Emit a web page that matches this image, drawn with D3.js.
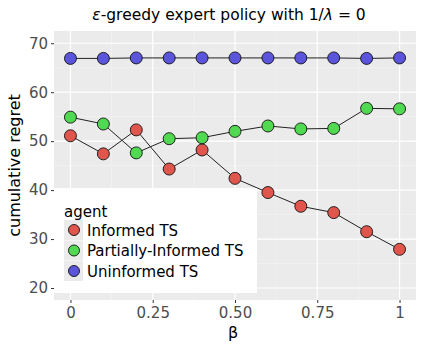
<!DOCTYPE html>
<html><head><meta charset="utf-8">
<script src="https://cdn.jsdelivr.net/npm/d3@7"></script>
<style>body{margin:0;background:#fff}svg{display:block;font-family:"DejaVu Sans",sans-serif}</style>
</head><body><svg id="c" width="423" height="351"></svg>
<script>
const betas = [0,0.1,0.2,0.3,0.4,0.5,0.6,0.7,0.8,0.9,1];
const informed = [51.1,47.4,52.3,44.3,48.2,42.4,39.5,36.7,35.4,31.5,27.9];
const partial = [54.9,53.5,47.6,50.5,50.7,52.0,53.1,52.5,52.6,56.7,56.6];
const uninformed = [66.9,66.9,67.0,67.0,67.0,67.0,67.0,67.0,67.0,66.9,67.0];
const agents = ["Informed TS","Partially-Informed TS","Uninformed TS"];
const colors = ["#e0554c","#52d952","#5b55dc"];
const xTicks = [0,0.25,0.5,0.75,1];
const xTickLabels = ["0","0.25","0.50","0.75","1"];
const yTicks = [20,30,40,50,60,70];

const svg = d3.select("#c");
const L=54, R=416, T=31, B=300;
const x = d3.scaleLinear().domain([-0.05,1.05]).range([L,R]);
const y = d3.scaleLinear().domain([17.55,72.5]).range([B,T]);

svg.append("rect").attr("x",L).attr("y",T).attr("width",R-L).attr("height",B-T).attr("fill","#ebebeb");
const g = svg.append("g");
// minor grid
[0.125,0.375,0.625,0.875].forEach(v=>g.append("line").attr("x1",x(v)).attr("x2",x(v)).attr("y1",T).attr("y2",B).attr("stroke","#f5f5f5").attr("stroke-width",0.6));
[25,35,45,55,65].forEach(v=>g.append("line").attr("y1",y(v)).attr("y2",y(v)).attr("x1",L).attr("x2",R).attr("stroke","#f5f5f5").attr("stroke-width",0.6));
xTicks.forEach(v=>g.append("line").attr("x1",x(v)).attr("x2",x(v)).attr("y1",T).attr("y2",B).attr("stroke","#fff").attr("stroke-width",1.2));
yTicks.forEach(v=>g.append("line").attr("y1",y(v)).attr("y2",y(v)).attr("x1",L).attr("x2",R).attr("stroke","#fff").attr("stroke-width",1.2));

const series=[informed,partial,uninformed];
const line=d3.line().x((d,i)=>x(betas[i])).y(d=>y(d));
series.forEach((s,k)=>{
  svg.append("path").attr("d",line(s)).attr("fill","none").attr("stroke","#222").attr("stroke-width",1);
});
series.forEach((s,k)=>{
  svg.selectAll(null).data(s).enter().append("circle")
    .attr("cx",(d,i)=>x(betas[i])).attr("cy",d=>y(d)).attr("r",6)
    .attr("fill",colors[k]).attr("stroke","#111").attr("stroke-width",0.9);
});

// axes
const xa = svg.append("g").attr("transform",`translate(0,${B})`)
  .call(d3.axisBottom(x).tickValues(xTicks).tickFormat((d,i)=>xTickLabels[i]).tickSize(3).tickPadding(4));
const ya = svg.append("g").attr("transform",`translate(${L},0)`)
  .call(d3.axisLeft(y).tickValues(yTicks).tickSize(3).tickPadding(3));
[xa,ya].forEach(a=>{a.select(".domain").remove();a.selectAll(".tick line").attr("stroke","#333");
  a.selectAll("text").attr("fill","#4d4d4d").style("font-size","15px").style("font-family","DejaVu Sans");});

// legend
const lg = svg.append("g");
lg.append("rect").attr("x",L).attr("y",188).attr("width",203).attr("height",105).attr("fill","#fff");
lg.append("text").attr("x",64).attr("y",217).text("agent").style("font-size","15px").attr("fill","#000");
agents.forEach((a,i)=>{
  const cy=230+i*20.5;
  lg.append("rect").attr("x",64).attr("y",cy-10).attr("width",19).attr("height",20).attr("fill","#ebebeb");
  lg.append("circle").attr("cx",74).attr("cy",cy).attr("r",5.5).attr("fill",colors[i]).attr("stroke","#111").attr("stroke-width",0.9);
  lg.append("text").attr("x",87).attr("y",cy+5.5).text(a).style("font-size","15px").attr("fill","#000");
});

svg.append("text").attr("x",229).attr("y",20).attr("text-anchor","middle").style("font-size","15.5px")
  .html('<tspan font-style="italic">ε</tspan>-greedy expert policy with 1/<tspan font-style="italic">λ</tspan> = 0');
svg.append("text").attr("x",233).attr("y",338).attr("text-anchor","middle").style("font-size","16px").text("β");
svg.append("text").attr("transform",`translate(20,${(T+B)/2}) rotate(-90)`).attr("text-anchor","middle").style("font-size","16px").text("cumulative regret");
</script></body></html>
